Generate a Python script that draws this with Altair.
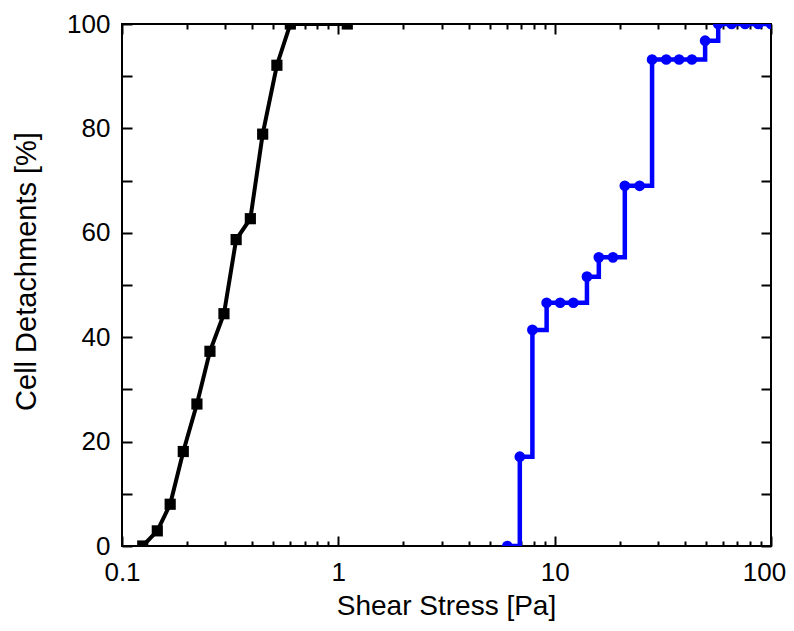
import altair as alt
import pandas as pd

# ---- data ----
black_x = [0.1247, 0.1456, 0.167, 0.192, 0.222, 0.255, 0.296, 0.337, 0.392, 0.447, 0.520, 0.600, 1.10]
black_y = [0, 2.9, 8.0, 18.1, 27.2, 37.3, 44.5, 58.7, 62.7, 78.9, 92.1, 100, 100]

blue_x = [6.04, 6.90, 7.89, 9.18, 10.6, 12.2, 14.1, 16.0, 18.6, 21.1, 24.7, 28.2, 32.8,
          37.6, 43.1, 49.6, 57.0, 65.7, 75.9, 87.3, 100]
blue_y = [0, 17.1, 41.4, 46.6, 46.6, 46.6, 51.6, 55.3, 55.3, 69.0, 69.0, 93.2, 93.2,
          93.2, 93.2, 96.8, 100, 100, 100, 100, 100]

x_labels = [0.1, 1, 10, 100]
x_ticks = [0.1, 0.2, 0.3, 0.4, 0.5, 0.6, 0.7, 0.8, 0.9,
           1, 2, 3, 4, 5, 6, 7, 8, 9,
           10, 20, 30, 40, 50, 60, 70, 80, 90, 100]
y_labels = [0, 20, 40, 60, 80, 100]
y_ticks = [0, 10, 20, 30, 40, 50, 60, 70, 80, 90, 100]

W, H = 649, 522
FONT = "Liberation Sans"

df_black = pd.DataFrame({"x": black_x, "y": black_y})
df_blue = pd.DataFrame({"x": blue_x, "y": blue_y})

xscale = alt.Scale(type="log", domain=[0.1, 100], nice=False)
yscale = alt.Scale(domain=[0, 100], nice=False)

major_test = "datum.value == 0.1 || datum.value == 1 || datum.value == 10 || datum.value == 100"
x_tick_size = {"condition": {"test": major_test, "value": 10}, "value": 5}
last_label_shift = {"condition": {"test": "datum.value == 100", "value": -7}, "value": 0}

# axes
x_label_axis = alt.Axis(orient="bottom", values=x_labels, format="~g", grid=False,
                        domain=False, ticks=False, tickSize=0, labelPadding=13,
                        labelFlush=False, labelOverlap=False, labelOffset=last_label_shift,
                        labelFont=FONT, labelFontSize=26, labelColor="black",
                        title="Shear Stress [Pa]", titleFont=FONT, titleFontSize=28,
                        titleFontWeight="normal", titleColor="black",
                        titleX=324, titleY=68, titleBaseline="alphabetic", titleAlign="center")
y_label_axis = alt.Axis(orient="left", values=y_labels, format="d", grid=False,
                        domain=False, ticks=False, tickSize=0, labelPadding=12,
                        labelFlush=False, labelOverlap=False,
                        labelFont=FONT, labelFontSize=26, labelColor="black",
                        title="Cell Detachments [%]", titleFont=FONT, titleFontSize=29,
                        titleFontWeight="normal", titleColor="black",
                        titleAngle=270, titleX=-87, titleY=247,
                        titleBaseline="alphabetic", titleAlign="center")

x_in_bottom = alt.Axis(orient="top", offset=-H, values=x_ticks, grid=False, domain=False,
                       labels=False, title=None, tickSize=x_tick_size, tickWidth=2,
                       tickColor="black")
x_in_top = alt.Axis(orient="bottom", offset=-H, values=x_ticks, grid=False, domain=False,
                    labels=False, title=None, tickSize=x_tick_size, tickWidth=2,
                    tickColor="black")
y_in_left = alt.Axis(orient="right", offset=-W, values=y_ticks, grid=False, domain=False,
                     labels=False, title=None, tickSize=10, tickWidth=2, tickColor="black")
y_in_right = alt.Axis(orient="left", offset=-W, values=y_ticks, grid=False, domain=False,
                      labels=False, title=None, tickSize=10, tickWidth=2, tickColor="black")

black_line = alt.Chart(df_black).mark_line(color="black", strokeWidth=4, clip=True).encode(
    x=alt.X("x:Q", scale=xscale, axis=x_label_axis),
    y=alt.Y("y:Q", scale=yscale, axis=y_label_axis),
)
black_pts = alt.Chart(df_black).mark_point(shape="square", filled=True, size=125,
                                           color="black", opacity=1, clip=True).encode(
    x=alt.X("x:Q", scale=xscale, axis=x_in_bottom),
    y=alt.Y("y:Q", scale=yscale, axis=y_in_left),
)
blue_line = alt.Chart(df_blue).mark_line(color="#0000FF", strokeWidth=4.5, interpolate="step-after",
                                         clip=True).encode(
    x=alt.X("x:Q", scale=xscale, axis=x_in_top),
    y=alt.Y("y:Q", scale=yscale, axis=y_in_right),
)
blue_pts = alt.Chart(df_blue).mark_circle(size=115, color="#0000FF", opacity=1, clip=True).encode(
    x=alt.X("x:Q", scale=xscale, axis=None),
    y=alt.Y("y:Q", scale=yscale, axis=None),
)

chart = alt.layer(black_line, black_pts, blue_line, blue_pts).resolve_axis(
    x="independent", y="independent"
).properties(
    width=W, height=H,
    autosize=alt.AutoSizeParams(type="none"),
    padding={"left": 114, "top": 16, "right": 15, "bottom": 75},
    background="white",
).configure_view(stroke="black", strokeWidth=2)

chart.save("out.html", embed_options={"renderer": "svg", "actions": False})
